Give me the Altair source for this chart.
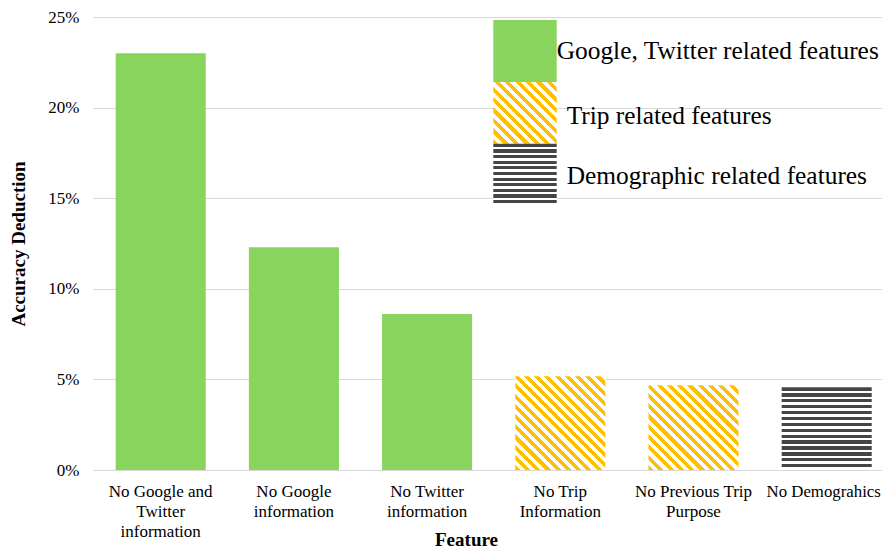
import math
import altair as alt
import pandas as pd

# ---------------- data ----------------
features = [
    "No Google and|Twitter|information",
    "No Google|information",
    "No Twitter|information",
    "No Trip|Information",
    "No Previous Trip|Purpose",
    "No Demograhics",
]
accuracy_deduction = [0.2300, 0.1229, 0.0861, 0.0518, 0.0468, 0.0456]
feature_group = ["google", "google", "google", "trip", "trip", "demo"]

legend_keys = ["google", "trip", "demo"]
legend_labels = [
    "Google, Twitter related features",
    "Trip related features",
    "Demographic related features",
]
y_ticks = [0, 0.05, 0.10, 0.15, 0.20, 0.25]

# ---------------- style ----------------
GREEN = "#88D45C"
YELLOW = "#FFC000"
DARK = "#454545"
FONT = "Liberation Serif"

PLOT_W, PLOT_H = 789, 453
Y_MAX = 0.25
PAD_INNER, PAD_OUTER, ALIGN = 0.324, 0.1237, 0.688
STEP = PLOT_W / (len(features) - PAD_INNER + 2 * PAD_OUTER)
BAR_W = STEP * (1 - PAD_INNER)

LEG_X0, LEG_X1 = 400.3, 463.7
LEG_Y0, LEG_Y1 = 3, 188.7
LEG_H = (LEG_Y1 - LEG_Y0) / len(legend_keys)
LEG_DY = {"google": 0, "trip": 3, "demo": 1.5}


def diag_gradient(w, h, period=7.1, frac=0.5):
    """Diagonal '\\' stripes (yellow / white) as a hard-stop linear gradient."""
    n = max(1, round((w + h) / (math.sqrt(2) * period)))
    c = (w + h) / (w * w + h * h)
    stops = []
    for i in range(n):
        a, m, b = i / n, (i + frac) / n, (i + 1) / n
        stops += [
            {"offset": a, "color": YELLOW},
            {"offset": m, "color": YELLOW},
            {"offset": m, "color": "#FFFFFF"},
            {"offset": b, "color": "#FFFFFF"},
        ]
    return {"gradient": "linear", "x1": 0, "y1": 1, "x2": c * w, "y2": 1 - c * h, "stops": stops}


def hstripe_gradient(h, period=5.85, frac=0.55):
    """Horizontal stripes (dark grey / white)."""
    n = max(1, round(h / period))
    stops = []
    for i in range(n):
        a, m, b = i / n, (i + frac) / n, (i + 1) / n
        stops += [
            {"offset": a, "color": DARK},
            {"offset": m, "color": DARK},
            {"offset": m, "color": "#FFFFFF"},
            {"offset": b, "color": "#FFFFFF"},
        ]
    return {"gradient": "linear", "x1": 0, "y1": 0, "x2": 0, "y2": 1, "stops": stops}


def fill_for(group, w, h):
    if group == "trip":
        return diag_gradient(w, h)
    if group == "demo":
        return hstripe_gradient(h)
    return GREEN


df = pd.DataFrame({"feature": features, "value": accuracy_deduction, "group": feature_group})
leg_df = pd.DataFrame({"key": legend_keys, "label": legend_labels})

last_label_test = f"datum.value === '{features[-1]}'"

x_enc = alt.X(
    "feature:N",
    sort=features,
    scale=alt.Scale(domain=features, paddingInner=PAD_INNER, paddingOuter=PAD_OUTER, align=ALIGN),
    axis=alt.Axis(
        title="Feature",
        titleFont=FONT,
        titleFontSize=19,
        titleFontWeight="bold",
        titleColor="#000000",
        titleX=373,
        titleY=75,
        titleAlign="center",
        titleBaseline="alphabetic",
        labelExpr="split(datum.label, '|')",
        labelAngle=0,
        labelFont=FONT,
        labelFontSize={"condition": {"test": last_label_test, "value": 16.8}, "value": 17},
        labelOffset={"condition": {"test": last_label_test, "value": -3}, "value": 0},
        labelColor="#000000",
        labelLineHeight=20,
        labelPadding=13.5,
        labelLimit=300,
        ticks=False,
        tickSize=0,
        domain=False,
        grid=False,
    ),
)
y_enc = alt.Y(
    "value:Q",
    scale=alt.Scale(domain=[0, Y_MAX], nice=False, zero=True),
    axis=alt.Axis(
        values=y_ticks,
        format=".0%",
        title="Accuracy Deduction",
        titleFont=FONT,
        titleFontSize=19,
        titleFontWeight="bold",
        titleColor="#000000",
        titleAngle=-90,
        titleX=-74.5,
        titleY=PLOT_H / 2,
        titleAlign="center",
        titleBaseline="middle",
        labelFont=FONT,
        labelFontSize=17,
        labelColor="#000000",
        labelPadding=14,
        ticks=False,
        tickSize=0,
        domain=False,
        grid=True,
        gridColor="#D9D9D9",
        gridWidth=1,
    ),
)

bar_layers = []
for f, v, g in zip(features, accuracy_deduction, feature_group):
    h = v / Y_MAX * PLOT_H
    bar_layers.append(
        alt.Chart(df)
        .transform_filter(alt.datum.feature == f)
        .mark_bar(fill=fill_for(g, BAR_W, h), stroke=None)
        .encode(x=x_enc, y=y_enc)
    )
bars = alt.layer(*bar_layers)

leg_y = alt.Y(
    "key:N",
    sort=legend_keys,
    scale=alt.Scale(domain=legend_keys, range=[LEG_Y0, LEG_Y1], paddingInner=0, paddingOuter=0),
    axis=None,
)

legend_layers = []
for k in legend_keys:
    legend_layers.append(
        alt.Chart(leg_df)
        .transform_filter(alt.datum.key == k)
        .mark_rect(fill=fill_for(k, LEG_X1 - LEG_X0, LEG_H), stroke=None)
        .encode(x=alt.value(LEG_X0), x2=alt.value(LEG_X1), y=leg_y)
    )
for k in legend_keys:
    legend_layers.append(
        alt.Chart(leg_df)
        .transform_filter(alt.datum.key == k)
        .mark_text(align="left", baseline="middle", font=FONT, fontSize=25.4, color="#000000",
                   dy=LEG_DY[k])
        .encode(
            x=alt.value(LEG_X1 if k == "google" else LEG_X1 + 10),
            y=leg_y,
            text="label:N",
        )
    )
legend = alt.layer(*legend_layers)

chart = (
    alt.layer(bars, legend)
    .resolve_scale(y="independent")
    .properties(
        width=PLOT_W,
        height=PLOT_H,
        autosize=alt.AutoSizeParams(type="none"),
        padding={"left": 85, "top": 9, "right": 0, "bottom": 79},
        background="white",
    )
    .configure_view(stroke=None)
)

chart.save("out.html", embed_options={"renderer": "svg", "actions": False})
